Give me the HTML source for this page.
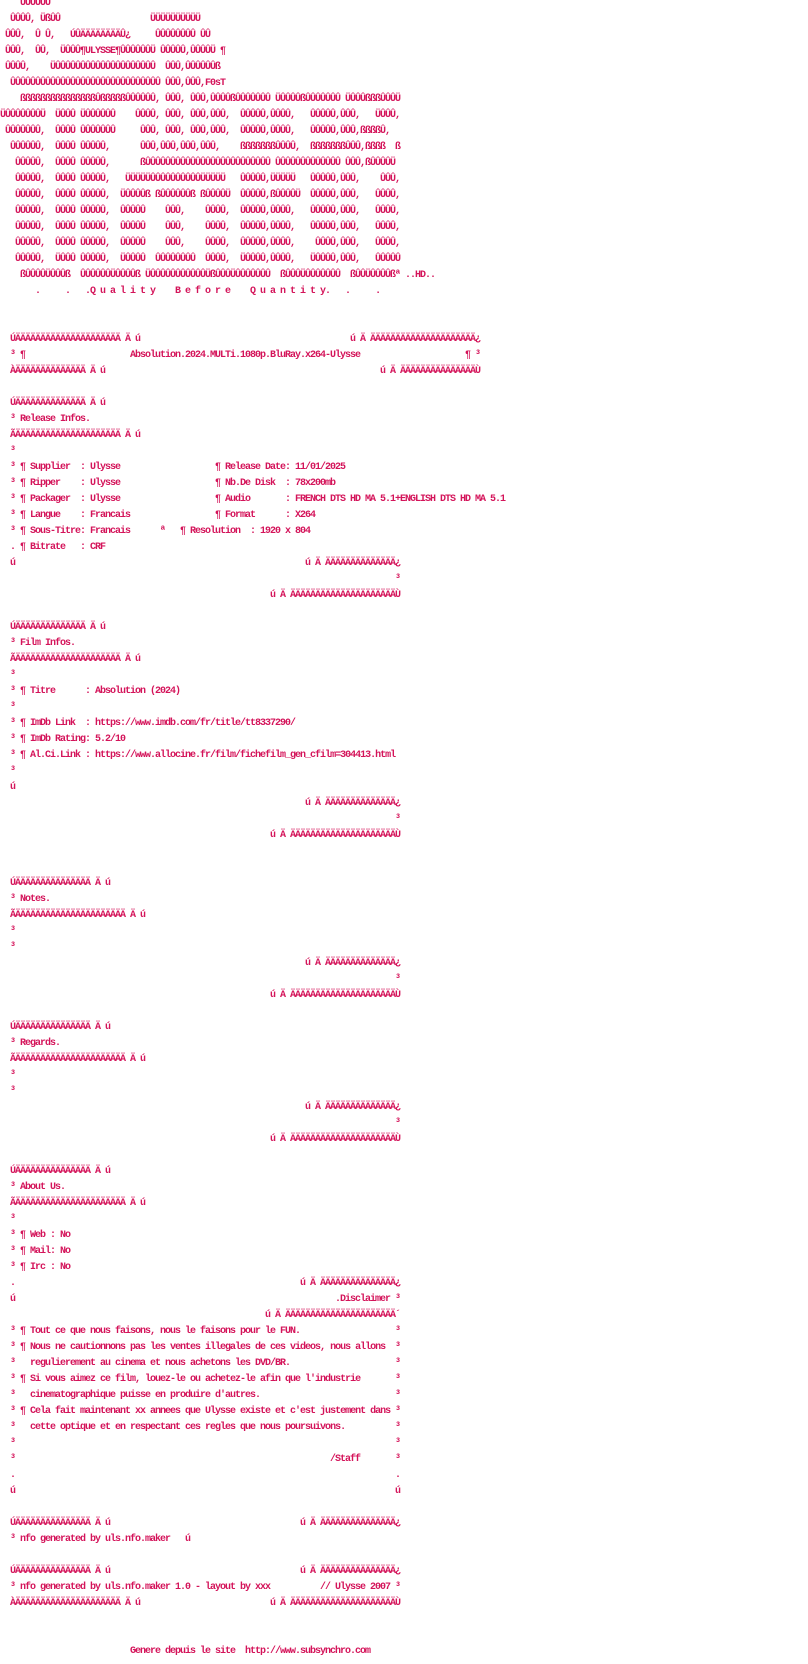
<!DOCTYPE html>
<html><head><meta charset="utf-8">
<style>
html,body{margin:0;padding:0;background:#fff;width:808px;height:1664px;overflow:hidden;}
#p{position:relative;width:808px;height:1664px;}
#p i{position:absolute;font-style:normal;font-weight:bold;white-space:pre;font-family:"Liberation Mono","DejaVu Sans Mono",monospace;font-size:10px;letter-spacing:-1px;line-height:16px;color:#d4145a;}
</style></head><body><div id="p">
<i style="left:20px;top:-4px">ÛÛÛÛÛÛ</i>
<i style="left:10px;top:12px">ÛÛÛÛ,</i><i style="left:40px;top:12px">ÜßÛÛ</i><i style="left:150px;top:12px">ÜÜÜÜÜÜÜÜÜÜ</i>
<i style="left:5px;top:28px">ÛÛÛ,</i><i style="left:35px;top:28px">Û Û,</i><i style="left:70px;top:28px">ÚÛÄÄÄÄÄÄÄÄÛ¿</i><i style="left:155px;top:28px">ÛÛÛÛÛÛÛÛ ÛÛ</i>
<i style="left:5px;top:44px">ÛÛÛ,</i><i style="left:35px;top:44px">ÛÛ,</i><i style="left:60px;top:44px">ÜÛÛÛ¶ULYSSE¶ÛÛÛÛÛÛÜ</i><i style="left:160px;top:44px">ÛÛÛÛÛ,ÛÛÛÛÜ ¶</i>
<i style="left:5px;top:60px">ÛÛÛÛ,</i><i style="left:50px;top:60px">ÜÛÛÛÛÛÛÛÛÛÛÛÛÛÛÛÛÛÛÛÛ</i><i style="left:165px;top:60px">ÛÛÛ,ÛÛÛÛÛÛß</i>
<i style="left:10px;top:76px">ÛÛÛÛÛÛÛÛÛÛÛÛÛÛÛÛÛÛÛÛÛÛÛÛÛÛÛÛÛÛ</i><i style="left:165px;top:76px">ÛÛÛ,ÛÛÛ,F0sT</i>
<i style="left:20px;top:92px">ßßßßßßßßßßßßßßßÛßßßßßÛÛÛÛÛÛ,</i><i style="left:165px;top:92px">ÛÛÛ,</i><i style="left:190px;top:92px">ÛÛÛ,ÛÛÛÛßÛÛÛÛÛÛÛ</i><i style="left:275px;top:92px">ÜÛÛÛÛßÛÛÛÛÛÛÛ</i><i style="left:345px;top:92px">ÜÛÛÛßßßÛÛÛÜ</i>
<i style="left:0px;top:108px">ÜÛÛÛÛÛÛÛÜ</i><i style="left:55px;top:108px">ÜÛÛÛ</i><i style="left:80px;top:108px">ÜÛÛÛÛÛÛ</i><i style="left:135px;top:108px">ÛÛÛÛ,</i><i style="left:165px;top:108px">ÛÛÛ,</i><i style="left:190px;top:108px">ÛÛÛ,ÛÛÛ,</i><i style="left:240px;top:108px">ÛÛÛÛÛ,ÛÛÛÛ,</i><i style="left:310px;top:108px">ÛÛÛÛÛ,ÛÛÛ,</i><i style="left:375px;top:108px">ÜÛÛÛ,</i>
<i style="left:5px;top:124px">ÛÛÛÛÛÛÛ,</i><i style="left:55px;top:124px">ÛÛÛÛ</i><i style="left:80px;top:124px">ÛÛÛÛÛÛÛ</i><i style="left:140px;top:124px">ÛÛÛ,</i><i style="left:165px;top:124px">ÛÛÛ,</i><i style="left:190px;top:124px">ÛÛÛ,ÛÛÛ,</i><i style="left:240px;top:124px">ÛÛÛÛÛ,ÛÛÛÛ,</i><i style="left:310px;top:124px">ÛÛÛÛÛ,ÛÛÛ,ßßßßÛ,</i>
<i style="left:10px;top:140px">ÛÛÛÛÛÛ,</i><i style="left:55px;top:140px">ÛÛÛÛ</i><i style="left:80px;top:140px">ÛÛÛÛÛ,</i><i style="left:140px;top:140px">ÛÛÛ,ÛÛÛ,ÛÛÛ,ÛÛÛ,</i><i style="left:240px;top:140px">ßßßßßßßÛÛÛÛ,</i><i style="left:310px;top:140px">ßßßßßßßÛÛÛ,ßßßß</i><i style="left:395px;top:140px">ß</i>
<i style="left:15px;top:156px">ÛÛÛÛÛ,</i><i style="left:55px;top:156px">ÛÛÛÛ</i><i style="left:80px;top:156px">ÛÛÛÛÛ,</i><i style="left:140px;top:156px">ßÛÛÛÛÛÛÛÛÛÛÛÛÛÛÛÛÛÛÛÛÛÛÛÛÛ</i><i style="left:275px;top:156px">ÛÛÛÛÛÛÛÛÛÛÛÛÛ</i><i style="left:345px;top:156px">ÛÛÛ,ßÛÛÛÛÜ</i>
<i style="left:15px;top:172px">ÛÛÛÛÛ,</i><i style="left:55px;top:172px">ÛÛÛÛ</i><i style="left:80px;top:172px">ÛÛÛÛÛ,</i><i style="left:125px;top:172px">ÜÜÜÜÜÛÛÛÛÛÛÛÛÛÛÜÜÜÜÜ</i><i style="left:240px;top:172px">ÛÛÛÛÛ,ÜÜÜÜÜ</i><i style="left:310px;top:172px">ÛÛÛÛÛ,ÛÛÛ,</i><i style="left:380px;top:172px">ÛÛÛ,</i>
<i style="left:15px;top:188px">ÛÛÛÛÛ,</i><i style="left:55px;top:188px">ÛÛÛÛ</i><i style="left:80px;top:188px">ÛÛÛÛÛ,</i><i style="left:120px;top:188px">ÜÛÛÛÛß</i><i style="left:155px;top:188px">ßÛÛÛÛÛÛß</i><i style="left:200px;top:188px">ßÛÛÛÛÜ</i><i style="left:240px;top:188px">ÛÛÛÛÛ,ßÛÛÛÛÜ</i><i style="left:310px;top:188px">ÛÛÛÛÛ,ÛÛÛ,</i><i style="left:375px;top:188px">ÛÛÛÛ,</i>
<i style="left:15px;top:204px">ÛÛÛÛÛ,</i><i style="left:55px;top:204px">ÛÛÛÛ</i><i style="left:80px;top:204px">ÛÛÛÛÛ,</i><i style="left:120px;top:204px">ÛÛÛÛÛ</i><i style="left:165px;top:204px">ÛÛÛ,</i><i style="left:205px;top:204px">ÛÛÛÛ,</i><i style="left:240px;top:204px">ÛÛÛÛÛ,ÛÛÛÛ,</i><i style="left:310px;top:204px">ÛÛÛÛÛ,ÛÛÛ,</i><i style="left:375px;top:204px">ÛÛÛÛ,</i>
<i style="left:15px;top:220px">ÛÛÛÛÛ,</i><i style="left:55px;top:220px">ÛÛÛÛ</i><i style="left:80px;top:220px">ÛÛÛÛÛ,</i><i style="left:120px;top:220px">ÛÛÛÛÛ</i><i style="left:165px;top:220px">ÛÛÛ,</i><i style="left:205px;top:220px">ÛÛÛÛ,</i><i style="left:240px;top:220px">ÛÛÛÛÛ,ÛÛÛÛ,</i><i style="left:310px;top:220px">ÛÛÛÛÛ,ÛÛÛ,</i><i style="left:375px;top:220px">ÛÛÛÛ,</i>
<i style="left:15px;top:236px">ÛÛÛÛÛ,</i><i style="left:55px;top:236px">ÛÛÛÛ</i><i style="left:80px;top:236px">ÛÛÛÛÛ,</i><i style="left:120px;top:236px">ÛÛÛÛÛ</i><i style="left:165px;top:236px">ÛÛÛ,</i><i style="left:205px;top:236px">ÛÛÛÛ,</i><i style="left:240px;top:236px">ÛÛÛÛÛ,ÛÛÛÛ,</i><i style="left:315px;top:236px">ÛÛÛÛ,ÛÛÛ,</i><i style="left:375px;top:236px">ÛÛÛÛ,</i>
<i style="left:15px;top:252px">ÛÛÛÛÛ,</i><i style="left:55px;top:252px">ÜÛÛÛ</i><i style="left:80px;top:252px">ÛÛÛÛÛ,</i><i style="left:120px;top:252px">ÜÛÛÛÛ</i><i style="left:155px;top:252px">ÛÛÛÛÛÛÛÛ</i><i style="left:205px;top:252px">ÛÛÛÛ,</i><i style="left:240px;top:252px">ÜÛÛÛÛ,ÛÛÛÛ,</i><i style="left:310px;top:252px">ÜÛÛÛÛ,ÛÛÛ,</i><i style="left:375px;top:252px">ÛÛÛÛÛ</i>
<i style="left:20px;top:268px">ßÛÛÛÛÜÛÛÛß</i><i style="left:80px;top:268px">ÛÛÛÛÛÛÜÛÛÛÛß</i><i style="left:145px;top:268px">ÜÛÛÛÛÛÛÛÛÛÛÛÜ</i><i style="left:210px;top:268px">ßÛÛÛÜÛÛÛÛÛÛÛ</i><i style="left:280px;top:268px">ßÛÛÛÜÛÛÛÛÛÛÛ</i><i style="left:350px;top:268px">ßÛÛÜÛÛÛÛßª</i><i style="left:405px;top:268px">..HD..</i>
<i style="left:35px;top:284px">.     .   .Q u a l i t y    B e f o r e    Q u a n t i t y.   .     .</i>

<i style="left:10px;top:332px">ÚÄÄÄÄÄÄÄÄÄÄÄÄÄÄÄÄÄÄÄÄÄ Ä ú</i><i style="left:350px;top:332px">ú Ä ÄÄÄÄÄÄÄÄÄÄÄÄÄÄÄÄÄÄÄÄÄ¿</i>
<i style="left:10px;top:348px">³ ¶</i><i style="left:130px;top:348px">Absolution.2024.MULTi.1080p.BluRay.x264-Ulysse</i><i style="left:465px;top:348px">¶ ³</i>
<i style="left:10px;top:364px">ÀÄÄÄÄÄÄÄÄÄÄÄÄÄÄ Ä ú</i><i style="left:380px;top:364px">ú Ä ÄÄÄÄÄÄÄÄÄÄÄÄÄÄÄÙ</i>

<i style="left:10px;top:396px">ÚÄÄÄÄÄÄÄÄÄÄÄÄÄÄ Ä ú</i>
<i style="left:10px;top:412px">³ Release Infos.</i>
<i style="left:10px;top:428px">ÃÄÄÄÄÄÄÄÄÄÄÄÄÄÄÄÄÄÄÄÄÄ Ä ú</i>
<i style="left:10px;top:444px">³</i>
<i style="left:10px;top:460px">³ ¶ Supplier  : Ulysse</i><i style="left:215px;top:460px">¶ Release Date: 11/01/2025</i>
<i style="left:10px;top:476px">³ ¶ Ripper    : Ulysse</i><i style="left:215px;top:476px">¶ Nb.De Disk  : 78x200mb</i>
<i style="left:10px;top:492px">³ ¶ Packager  : Ulysse</i><i style="left:215px;top:492px">¶ Audio       : FRENCH DTS HD MA 5.1+ENGLISH DTS HD MA 5.1</i>
<i style="left:10px;top:508px">³ ¶ Langue    : Francais</i><i style="left:215px;top:508px">¶ Format      : X264</i>
<i style="left:10px;top:524px">³ ¶ Sous-Titre: Francais</i><i style="left:160px;top:524px">ª</i><i style="left:180px;top:524px">¶ Resolution  : 1920 x 804</i>
<i style="left:10px;top:540px">. ¶ Bitrate   : CRF</i>
<i style="left:10px;top:556px">ú</i><i style="left:305px;top:556px">ú Ä ÄÄÄÄÄÄÄÄÄÄÄÄÄÄ¿</i>
<i style="left:395px;top:572px">³</i>
<i style="left:270px;top:588px">ú Ä ÄÄÄÄÄÄÄÄÄÄÄÄÄÄÄÄÄÄÄÄÄÙ</i>

<i style="left:10px;top:620px">ÚÄÄÄÄÄÄÄÄÄÄÄÄÄÄ Ä ú</i>
<i style="left:10px;top:636px">³ Film Infos.</i>
<i style="left:10px;top:652px">ÃÄÄÄÄÄÄÄÄÄÄÄÄÄÄÄÄÄÄÄÄÄ Ä ú</i>
<i style="left:10px;top:668px">³</i>
<i style="left:10px;top:684px">³ ¶ Titre      : Absolution (2024)</i>
<i style="left:10px;top:700px">³</i>
<i style="left:10px;top:716px">³ ¶ ImDb Link  : https://www.imdb.com/fr/title/tt8337290/</i>
<i style="left:10px;top:732px">³ ¶ ImDb Rating: 5.2/10</i>
<i style="left:10px;top:748px">³ ¶ Al.Ci.Link : https://www.allocine.fr/film/fichefilm_gen_cfilm=304413.html</i>
<i style="left:10px;top:764px">³</i>
<i style="left:10px;top:780px">ú</i>
<i style="left:305px;top:796px">ú Ä ÄÄÄÄÄÄÄÄÄÄÄÄÄÄ¿</i>
<i style="left:395px;top:812px">³</i>
<i style="left:270px;top:828px">ú Ä ÄÄÄÄÄÄÄÄÄÄÄÄÄÄÄÄÄÄÄÄÄÙ</i>

<i style="left:10px;top:876px">ÚÄÄÄÄÄÄÄÄÄÄÄÄÄÄÄ Ä ú</i>
<i style="left:10px;top:892px">³ Notes.</i>
<i style="left:10px;top:908px">ÃÄÄÄÄÄÄÄÄÄÄÄÄÄÄÄÄÄÄÄÄÄÄ Ä ú</i>
<i style="left:10px;top:924px">³</i>
<i style="left:10px;top:940px">³</i>
<i style="left:305px;top:956px">ú Ä ÄÄÄÄÄÄÄÄÄÄÄÄÄÄ¿</i>
<i style="left:395px;top:972px">³</i>
<i style="left:270px;top:988px">ú Ä ÄÄÄÄÄÄÄÄÄÄÄÄÄÄÄÄÄÄÄÄÄÙ</i>

<i style="left:10px;top:1020px">ÚÄÄÄÄÄÄÄÄÄÄÄÄÄÄÄ Ä ú</i>
<i style="left:10px;top:1036px">³ Regards.</i>
<i style="left:10px;top:1052px">ÃÄÄÄÄÄÄÄÄÄÄÄÄÄÄÄÄÄÄÄÄÄÄ Ä ú</i>
<i style="left:10px;top:1068px">³</i>
<i style="left:10px;top:1084px">³</i>
<i style="left:305px;top:1100px">ú Ä ÄÄÄÄÄÄÄÄÄÄÄÄÄÄ¿</i>
<i style="left:395px;top:1116px">³</i>
<i style="left:270px;top:1132px">ú Ä ÄÄÄÄÄÄÄÄÄÄÄÄÄÄÄÄÄÄÄÄÄÙ</i>

<i style="left:10px;top:1164px">ÚÄÄÄÄÄÄÄÄÄÄÄÄÄÄÄ Ä ú</i>
<i style="left:10px;top:1180px">³ About Us.</i>
<i style="left:10px;top:1196px">ÃÄÄÄÄÄÄÄÄÄÄÄÄÄÄÄÄÄÄÄÄÄÄ Ä ú</i>
<i style="left:10px;top:1212px">³</i>
<i style="left:10px;top:1228px">³ ¶ Web : No</i>
<i style="left:10px;top:1244px">³ ¶ Mail: No</i>
<i style="left:10px;top:1260px">³ ¶ Irc : No</i>
<i style="left:10px;top:1276px">.</i><i style="left:300px;top:1276px">ú Ä ÄÄÄÄÄÄÄÄÄÄÄÄÄÄÄ¿</i>
<i style="left:10px;top:1292px">ú</i><i style="left:335px;top:1292px">.Disclaimer ³</i>
<i style="left:265px;top:1308px">ú Ä ÄÄÄÄÄÄÄÄÄÄÄÄÄÄÄÄÄÄÄÄÄÄ´</i>
<i style="left:10px;top:1324px">³ ¶ Tout ce que nous faisons, nous le faisons pour le FUN.</i><i style="left:395px;top:1324px">³</i>
<i style="left:10px;top:1340px">³ ¶ Nous ne cautionnons pas les ventes illegales de ces videos, nous allons</i><i style="left:395px;top:1340px">³</i>
<i style="left:10px;top:1356px">³   regulierement au cinema et nous achetons les DVD/BR.</i><i style="left:395px;top:1356px">³</i>
<i style="left:10px;top:1372px">³ ¶ Si vous aimez ce film, louez-le ou achetez-le afin que l'industrie</i><i style="left:395px;top:1372px">³</i>
<i style="left:10px;top:1388px">³   cinematographique puisse en produire d'autres.</i><i style="left:395px;top:1388px">³</i>
<i style="left:10px;top:1404px">³ ¶ Cela fait maintenant xx annees que Ulysse existe et c'est justement dans</i><i style="left:395px;top:1404px">³</i>
<i style="left:10px;top:1420px">³   cette optique et en respectant ces regles que nous poursuivons.</i><i style="left:395px;top:1420px">³</i>
<i style="left:10px;top:1436px">³</i><i style="left:395px;top:1436px">³</i>
<i style="left:10px;top:1452px">³</i><i style="left:330px;top:1452px">/Staff</i><i style="left:395px;top:1452px">³</i>
<i style="left:10px;top:1468px">.</i><i style="left:395px;top:1468px">.</i>
<i style="left:10px;top:1484px">ú</i><i style="left:395px;top:1484px">ú</i>

<i style="left:10px;top:1516px">ÚÄÄÄÄÄÄÄÄÄÄÄÄÄÄÄ Ä ú</i><i style="left:300px;top:1516px">ú Ä ÄÄÄÄÄÄÄÄÄÄÄÄÄÄÄ¿</i>
<i style="left:10px;top:1532px">³ nfo generated by uls.nfo.maker</i><i style="left:185px;top:1532px">ú</i>

<i style="left:10px;top:1564px">ÚÄÄÄÄÄÄÄÄÄÄÄÄÄÄÄ Ä ú</i><i style="left:300px;top:1564px">ú Ä ÄÄÄÄÄÄÄÄÄÄÄÄÄÄÄ¿</i>
<i style="left:10px;top:1580px">³ nfo generated by uls.nfo.maker 1.0 - layout by xxx</i><i style="left:320px;top:1580px">// Ulysse 2007 ³</i>
<i style="left:10px;top:1596px">ÀÄÄÄÄÄÄÄÄÄÄÄÄÄÄÄÄÄÄÄÄÄ Ä ú</i><i style="left:270px;top:1596px">ú Ä ÄÄÄÄÄÄÄÄÄÄÄÄÄÄÄÄÄÄÄÄÄÙ</i>

<i style="left:130px;top:1644px">Genere depuis le site  http://www.subsynchro.com</i>
</div></body></html>
